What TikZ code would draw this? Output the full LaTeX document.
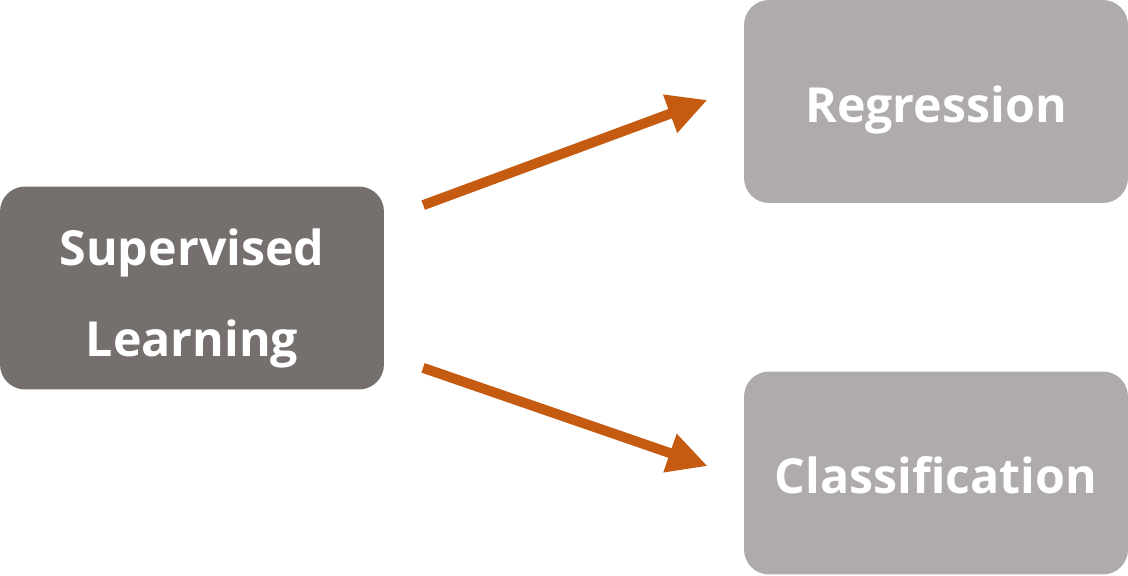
\documentclass[tikz,border=0pt]{standalone}
\usepackage{fontspec}
\setmainfont{Open Sans}
\usepackage{tikz}
\usetikzlibrary{positioning}
\usetikzlibrary{arrows.meta}
\definecolor{darkbox}{RGB}{117,112,110}
\definecolor{lightbox}{RGB}{175,171,170}
\definecolor{arrowc}{RGB}{197,90,17}

\begin{document}
\begin{tikzpicture}[
        x=0.02cm, y=-0.02cm,
        every node/.style = {
        rectangle, rounded corners=0.5cm, text=white, align=center,
        minimum width=7.68cm, minimum height=4.06cm,
        text depth=0pt, text height=0.82cm,
        font=\fontsize{27.5}{52}\selectfont\bfseries
        },
        arr/.style = {
        draw=arrowc, line width=0.2cm,
        -{Triangle[length=0.8cm, width=0.76cm]}
        }
        ]
        \useasboundingbox (0,0) rectangle (1128,575);

        \node[fill=darkbox, text height=2.76cm] (sup) at (192,288) {Supervised\\Learning};
        \node[fill=lightbox] (reg) at (936,101.5) {Regression};
        \node[fill=lightbox] (cls) at (936,473) {Classification};

        \draw[arr, shorten <=0.83cm, shorten >=0.77cm]
            ([yshift=1.37cm]sup.east) -- ([yshift=0.3cm]reg.west);
        \draw[arr, shorten <=0.82cm, shorten >=0.76cm]
            ([yshift=-1.33cm]sup.east) -- ([yshift=-0.11cm]cls.west);
    \end{tikzpicture}
\end{document}
